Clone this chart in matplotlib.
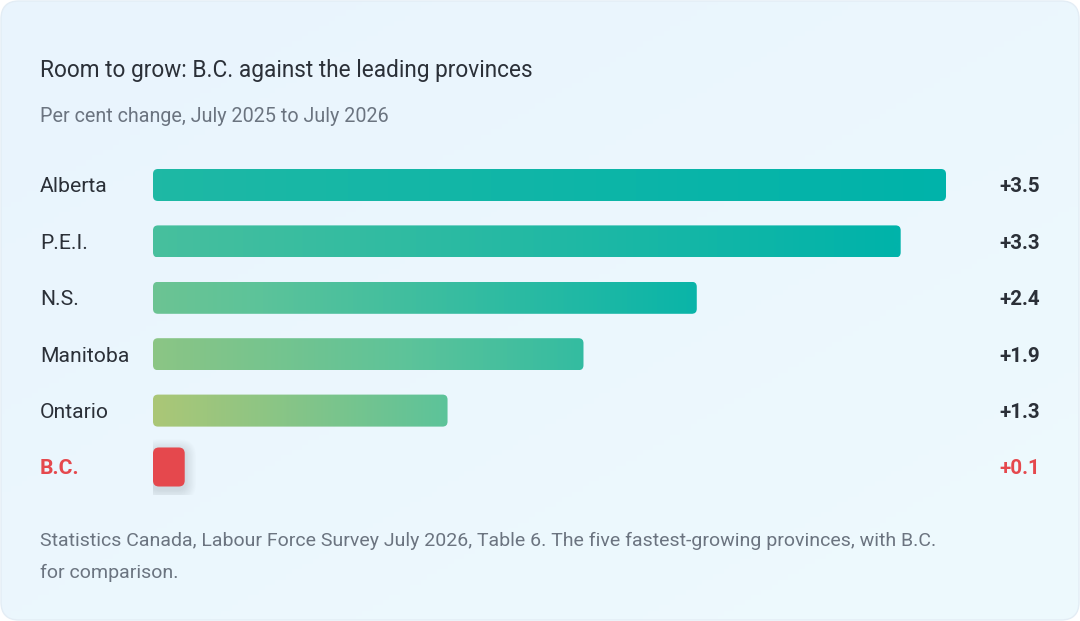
import numpy as np
import matplotlib
matplotlib.use("Agg")
import matplotlib.pyplot as plt
from matplotlib.patches import FancyBboxPatch
from matplotlib.colors import LinearSegmentedColormap

# data
provinces = ["Alberta", "P.E.I.", "N.S.", "Manitoba", "Ontario", "B.C."]
changes = [3.5, 3.3, 2.4, 1.9, 1.3, 0.1]
value_labels = ["+3.5", "+3.3", "+2.4", "+1.9", "+1.3", "+0.1"]
highlight = "B.C."

title = "Room to grow: B.C. against the leading provinces"
subtitle = "Per cent change, July 2025 to July 2026"
note = ("Statistics Canada, Labour Force Survey July 2026, Table 6. The five fastest-growing provinces, with B.C.\n"
        "for comparison.")

W, H = 1080, 621
FONT = ["Roboto", "DejaVu Sans"]
DARK = "#2b3038"
GREY = "#6b7480"
RED = "#e5484d"
cmap = LinearSegmentedColormap.from_list(
    "bars", [(0.0, "#b3c773"), (0.55, "#5cc39a"), (1.0, "#00b3aa")])

fig = plt.figure(figsize=(W / 100, H / 100), dpi=100)
fig.patch.set_facecolor("white")


def fx(px):
    return px / W


def fy(py):
    return 1 - py / H


# card background with soft gradient
bg = fig.add_axes([0, 0, 1, 1])
bg.set_xlim(0, W)
bg.set_ylim(H, 0)
bg.axis("off")
gx, gy = np.meshgrid(np.linspace(0, 1, 200), np.linspace(0, 1, 120))
grad = (gx + gy) / 2
card_cmap = LinearSegmentedColormap.from_list("card", ["#e9f4fd", "#eefafd"])
img = bg.imshow(grad, cmap=card_cmap, extent=(0, W, H, 0), aspect="auto", zorder=0)
card = FancyBboxPatch((1, 1), W - 2, H - 2, boxstyle="round,pad=0,rounding_size=18",
                      facecolor="none", edgecolor="#e3edf5", linewidth=1, zorder=1)
bg.add_patch(card)
img.set_clip_path(card)

# text
fig.text(fx(40), fy(70), title, fontsize=16.3, color=DARK, family=FONT,
         va="center", ha="left")
fig.text(fx(40), fy(117), subtitle, fontsize=14.2, color=GREY, family=FONT,
         va="center", ha="left")
fig.text(fx(40), fy(557), note, fontsize=14.0, color=GREY, family=FONT,
         va="center", ha="left", linespacing=2.0)

# bar area
x0_px, x1_px = 153, 946
row_px = 56.4
top_px = 185 - row_px / 2
n = len(provinces)
ax = fig.add_axes([fx(x0_px), fy(top_px + n * row_px), fx(x1_px - x0_px), n * row_px / H])
ax.set_xlim(0, max(changes))
ax.set_ylim(n - 0.5, -0.5)
ax.axis("off")

px_x = (x1_px - x0_px) / max(changes)
bar_h = 32 / row_px
r_px = 5
aspect = px_x / row_px

ranks = np.argsort(np.argsort(changes))  # 0 = smallest
for i, (name, v, lab) in enumerate(zip(provinces, changes, value_labels)):
    is_hl = name == highlight
    color = RED if is_hl else DARK
    ty = fy(top_px + (i + 0.5) * row_px + 2)
    fig.text(fx(40), ty, name, fontsize=15.2, color=color,
             family=FONT, fontweight="bold" if is_hl else "normal", va="center", ha="left")
    fig.text(fx(1040), ty, lab, fontsize=14.8, color=color,
             family=FONT, fontweight="semibold", va="center", ha="right")

    if is_hl:
        w = max(v, 26 / px_x) * 1.22
        h = bar_h * 1.22
        # soft shadow
        for k in range(14, 0, -1):
            gr = k * 0.8
            sh = FancyBboxPatch((-gr / px_x, i - h / 2 - gr / row_px + 3 / row_px),
                                w + 2 * gr / px_x, h + 2 * gr / row_px,
                                boxstyle=f"round,pad=0,rounding_size={(6 + gr) / px_x}",
                                mutation_aspect=aspect, facecolor="#9aa8b5",
                                edgecolor="none", alpha=0.022, zorder=1)
            ax.add_patch(sh)
        p = FancyBboxPatch((0, i - h / 2), w, h,
                           boxstyle=f"round,pad=0,rounding_size={6 / px_x}",
                           mutation_aspect=aspect, facecolor=RED, edgecolor="none", zorder=3)
        ax.add_patch(p)
        continue

    p = FancyBboxPatch((0, i - bar_h / 2), v, bar_h,
                       boxstyle=f"round,pad=0,rounding_size={r_px / px_x}",
                       mutation_aspect=aspect, facecolor="none", edgecolor="none", zorder=2)
    ax.add_patch(p)
    rk = ranks[i] - 1  # ignore the highlighted row
    t0 = 0.05 + 0.2 * rk
    t1 = min(t0 + 0.5, 1.0)
    strip = np.linspace(t0, t1, 256)[None, :]
    im = ax.imshow(strip, cmap=cmap, vmin=0, vmax=1, aspect="auto",
                   extent=(0, v, i + bar_h / 2, i - bar_h / 2), zorder=2)
    im.set_clip_path(p)

ax.set_xlim(0, max(changes))
ax.set_ylim(n - 0.5, -0.5)

fig.savefig("out.png", dpi=100, facecolor="white")
